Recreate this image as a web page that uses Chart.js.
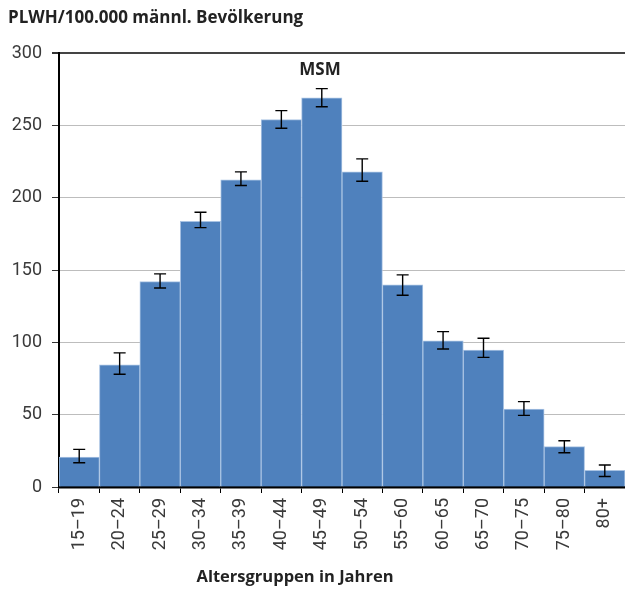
<!DOCTYPE html>
<html>
<head>
<meta charset="utf-8">
<script src="https://cdn.jsdelivr.net/npm/chart.js@4.4.1/dist/chart.umd.min.js"></script>
<style>
  html, body { margin: 0; padding: 0; background: #fff; }
  #wrap { width: 625px; height: 590px; }
</style>
</head>
<body>
<div id="wrap"><canvas id="c" width="625" height="590"></canvas></div>
<script>
// Altersgruppen (x-Achse)
const ageGroups = ['15–19', '20–24', '25–29', '30–34', '35–39', '40–44', '45–49',
                   '50–54', '55–60', '60–65', '65–70', '70–75', '75–80', '80+'];
// PLWH je 100.000 Männer (MSM)
const rates   = [20.7, 84.4, 142.0, 183.7, 212.3, 254.0, 269.0, 217.8, 139.7, 101.0, 94.7, 53.9, 27.9, 11.5];
// Unter- und Obergrenze des Konfidenzintervalls
const ciLower = [16.8, 77.9, 137.6, 179.3, 208.4, 248.0, 262.8, 211.3, 132.5, 95.4, 89.6, 49.5, 23.7, 7.3];
const ciUpper = [26.0, 92.7, 147.3, 189.9, 217.8, 260.2, 275.4, 226.8, 146.6, 107.4, 102.8, 59.0, 32.0, 15.2];
// Skala der y-Achse
const yMin = 0, yMax = 300, yStep = 50;

const titleText = 'PLWH/100.000 männl. Bevölkerung';
const groupText = 'MSM';
const xTitleText = 'Altersgruppen in Jahren';

const labelFont = 'Roboto, "Liberation Sans", sans-serif';
const boldFont = '"Open Sans", "DejaVu Sans", sans-serif';

// Fehlerbalken aus den Intervallgrenzen
const errorBars = {
  id: 'errorBars',
  afterDatasetsDraw(chart) {
    const meta = chart.getDatasetMeta(0);
    const y = chart.scales.y;
    const ctx = chart.ctx;
    ctx.save();
    ctx.strokeStyle = '#000';
    ctx.lineWidth = 1.4;
    meta.data.forEach((bar, i) => {
      const x = bar.x;
      const top = y.getPixelForValue(ciUpper[i]);
      const bot = y.getPixelForValue(ciLower[i]);
      const half = 6;
      ctx.beginPath();
      ctx.moveTo(x, top); ctx.lineTo(x, bot);
      ctx.moveTo(x - half, top); ctx.lineTo(x + half, top);
      ctx.moveTo(x - half, bot); ctx.lineTo(x + half, bot);
      ctx.stroke();
    });
    ctx.restore();
  }
};

// Überschriften
const captions = {
  id: 'captions',
  afterDraw(chart) {
    const ctx = chart.ctx;
    ctx.save();
    ctx.fillStyle = '#222';
    ctx.textBaseline = 'middle';
    ctx.font = 'bold 17px ' + boldFont;
    ctx.textAlign = 'left';
    ctx.fillText(titleText, 8, 18);
    ctx.textAlign = 'center';
    ctx.fillText(groupText, 320, 70);
    ctx.font = 'bold 16.5px ' + boldFont;
    ctx.fillText(xTitleText, 295, 577);
    ctx.restore();
  }
};

new Chart(document.getElementById('c'), {
  type: 'bar',
  data: {
    labels: ageGroups,
    datasets: [{
      data: rates,
      backgroundColor: '#4f81bd',
      borderColor: '#a9c3e3',
      borderWidth: 1,
      barPercentage: 1,
      categoryPercentage: 1
    }]
  },
  options: {
    responsive: false,
    devicePixelRatio: 1,
    animation: false,
    layout: { padding: { top: 53, left: 0, right: 0, bottom: 0 } },
    plugins: { legend: { display: false }, tooltip: { enabled: false }, title: { display: false } },
    scales: {
      x: {
        afterFit(scale) {
          scale.height = 103;
          scale.paddingLeft = 0;
          scale.paddingRight = 0;
        },
        grid: {
          display: true,
          drawOnChartArea: false,
          drawTicks: true,
          tickLength: 6,
          tickColor: '#000',
          offset: true
        },
        border: { color: '#000', width: 2.5 },
        ticks: {
          autoSkip: false,
          minRotation: 90,
          maxRotation: 90,
          padding: 5,
          color: '#3a3a3a',
          font: { family: labelFont, size: 18 }
        }
      },
      y: {
        min: yMin,
        max: yMax,
        afterFit(scale) { scale.width = 59; },
        grid: {
          color: (c) => c.tick.value === yMax ? '#444' : (c.tick.value === yMin ? 'rgba(0,0,0,0)' : '#bdbdbd'),
          lineWidth: (c) => c.tick.value === yMax ? 2 : 1,
          tickColor: '#333',
          tickLength: 7
        },
        border: { color: '#000', width: 2 },
        ticks: {
          stepSize: yStep,
          padding: 10,
          color: '#3a3a3a',
          font: { family: labelFont, size: 18 }
        }
      }
    }
  },
  plugins: [errorBars, captions]
});
</script>
</body>
</html>
